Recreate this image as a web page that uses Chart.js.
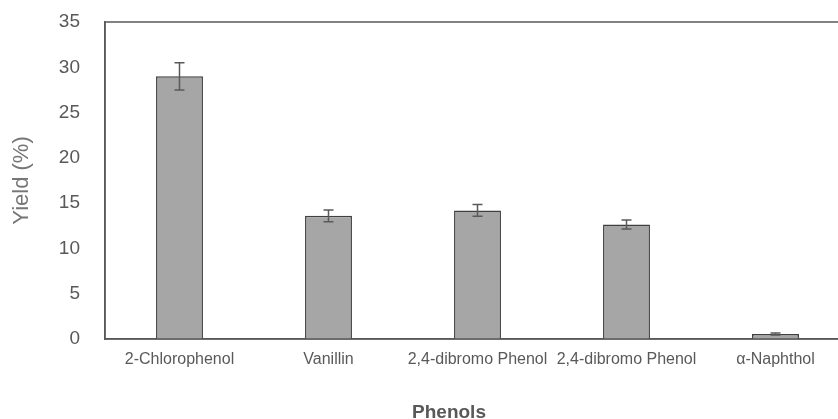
<!DOCTYPE html>
<html>
<head>
<meta charset="utf-8">
<script src="https://cdn.jsdelivr.net/npm/chart.js@4"></script>
<style>
  html, body { margin: 0; padding: 0; overflow: hidden; background: #ffffff; width: 838px; height: 419px; }
  #wrap { position: absolute; left: 0; top: 0; width: 898px; height: 419px; }
</style>
</head>
<body>
<div id="wrap"><canvas id="c" width="898" height="419"></canvas></div>
<script>
const categories = ["2-Chlorophenol", "Vanillin", "2,4-dibromo Phenol", "2,4-dibromo Phenol", "\u03b1-Naphthol"];
const yieldValues = [29.0, 13.6, 14.2, 12.65, 0.55];
const yieldErrors = [1.5, 0.65, 0.65, 0.5, 0.1];
const yTicks = [0, 5, 10, 15, 20, 25, 30, 35];
const xTitle = "Phenols";
const yTitle = "Yield (%)";

const textGrey = "#595959";
const axisGrey = "#595959";

const errorBarPlugin = {
  id: "errorBars",
  afterDatasetsDraw(chart) {
    const ctx = chart.ctx;
    const xs = chart.scales.x, ys = chart.scales.y;
    ctx.save();
    ctx.strokeStyle = "#5a5a5a";
    ctx.lineWidth = 1.5;
    yieldValues.forEach((v, i) => {
      const e = yieldErrors[i];
      const x = xs.getPixelForValue(i);
      const yt = ys.getPixelForValue(v + e);
      const yb = ys.getPixelForValue(v - e);
      const cap = 5;
      ctx.beginPath();
      ctx.moveTo(x, yt); ctx.lineTo(x, yb);
      ctx.moveTo(x - cap, yt); ctx.lineTo(x + cap, yt);
      ctx.moveTo(x - cap, yb); ctx.lineTo(x + cap, yb);
      ctx.stroke();
    });
    ctx.restore();
  }
};

const framePlugin = {
  id: "frame",
  afterDatasetsDraw(chart) {
    const a = chart.chartArea;
    const ctx = chart.ctx;
    ctx.save();
    ctx.strokeStyle = axisGrey;
    ctx.lineWidth = 1.5;
    ctx.strokeRect(a.left, a.top, a.right - a.left, a.bottom - a.top);
    ctx.restore();
  }
};

const bottomTitlePlugin = {
  id: "bottomTitle",
  afterDraw(chart) {
    const ctx = chart.ctx;
    ctx.save();
    ctx.fillStyle = textGrey;
    ctx.font = "bold 19px 'Liberation Sans', Arial, sans-serif";
    ctx.textAlign = "center";
    ctx.textBaseline = "alphabetic";
    ctx.fillText(xTitle, chart.width / 2, 418);
    ctx.restore();
  }
};

new Chart(document.getElementById("c"), {
  type: "bar",
  data: {
    labels: categories,
    datasets: [{
      data: yieldValues,
      backgroundColor: "#a6a6a6",
      borderColor: "#404040",
      borderWidth: 1.5,
      categoryPercentage: 0.315,
      barPercentage: 1.0
    }]
  },
  options: {
    responsive: false,
    animation: false,
    devicePixelRatio: 1,
    layout: { padding: { left: 0, right: 48, top: 22, bottom: 0 } },
    plugins: {
      legend: { display: false },
      tooltip: { enabled: false }
    },
    scales: {
      x: {
        grid: { display: false, drawTicks: false },
        border: { display: true, color: axisGrey, width: 1.5 },
        ticks: {
          color: textGrey,
          font: { family: "'Liberation Sans', Arial, sans-serif", size: 16 },
          padding: 11,
          maxRotation: 0,
          minRotation: 0,
          autoSkip: false
        },
        afterFit(scale) { scale.height = 80; scale.paddingLeft = 0; scale.paddingRight = 0; }
      },
      y: {
        min: 0,
        max: 35,
        afterBuildTicks(scale) { scale.ticks = yTicks.map(v => ({ value: v })); },
        grid: { display: false, drawTicks: false },
        border: { display: true, color: axisGrey, width: 1.5 },
        ticks: {
          color: textGrey,
          font: { family: "'Liberation Sans', Arial, sans-serif", size: 19 },
          padding: 25
        },
        title: {
          display: true,
          text: yTitle,
          color: "#767676",
          font: { family: "'Liberation Sans', Arial, sans-serif", size: 22 },
          padding: { top: 9, bottom: 0 }
        },
        afterFit(scale) { scale.width = 105; scale.paddingTop = 0; scale.paddingBottom = 0; }
      }
    }
  },
  plugins: [errorBarPlugin, framePlugin, bottomTitlePlugin]
});
</script>
</body>
</html>
